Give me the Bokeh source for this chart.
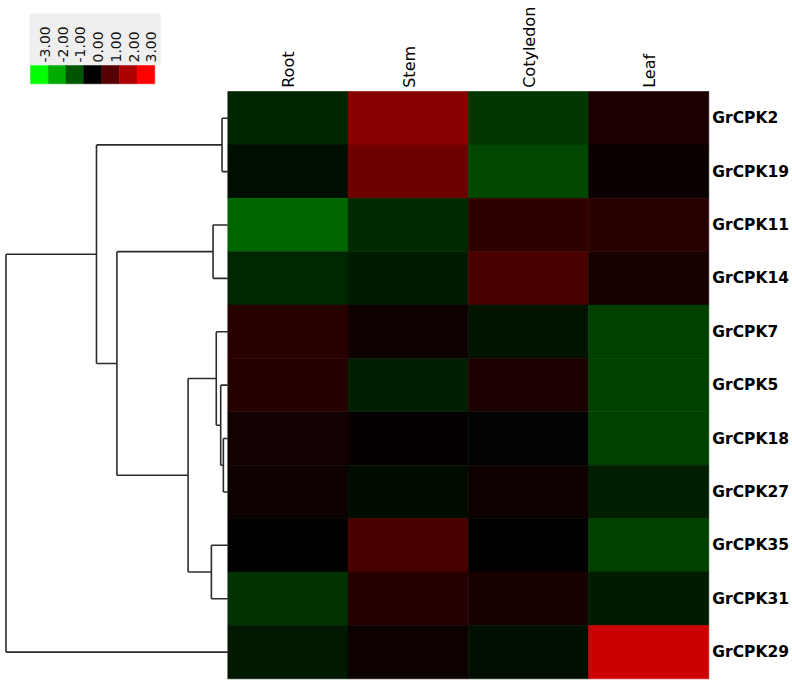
from math import pi
from bokeh.plotting import figure
from bokeh.models import Range1d
from bokeh.core.properties import value
from bokeh.embed import file_html
from bokeh.resources import INLINE

# ---------------- data ----------------
genes = ["GrCPK2", "GrCPK19", "GrCPK11", "GrCPK14", "GrCPK7", "GrCPK5",
         "GrCPK18", "GrCPK27", "GrCPK35", "GrCPK31", "GrCPK29"]
tissues = ["Root", "Stem", "Cotyledon", "Leaf"]
root_vals = [-0.45, -0.16, -1.18, -0.47, 0.48, 0.45, 0.24, 0.14, 0.04, -0.60, -0.30]
stem_vals = [1.60, 1.30, -0.48, -0.33, 0.18, -0.37, 0.06, -0.14, 0.88, 0.45, 0.14]
cot_vals = [-0.65, -0.83, 0.55, 0.88, -0.24, 0.32, -0.03, 0.18, 0.02, 0.30, -0.18]
leaf_vals = [0.33, 0.12, 0.48, 0.30, -0.76, -0.76, -0.76, -0.35, -0.76, -0.33, 2.40]

legend_ticks = [-3.0, -2.0, -1.0, 0.0, 1.0, 2.0, 3.0]
legend_labels = ["-3.00", "-2.00", "-1.00", "0.00", "1.00", "2.00", "3.00"]

# hierarchical clustering (row dendrogram): merge a + b at height h
merge_id = ["n1", "n2", "n3", "n4", "n5", "n6", "n7", "n8", "n9", "n10"]
merge_a = ["GrCPK2", "GrCPK11", "GrCPK18", "GrCPK5", "GrCPK7", "GrCPK35", "n5", "n2", "n1", "n9"]
merge_b = ["GrCPK19", "GrCPK14", "GrCPK27", "n3", "n4", "GrCPK31", "n6", "n7", "n8", "GrCPK29"]
merge_h = [0.026, 0.0665, 0.020, 0.032, 0.052, 0.074, 0.179, 0.50, 0.592, 1.0]

VMAX = 3.0


def to_color(v):
    t = max(-1.0, min(1.0, v / VMAX))
    if t >= 0:
        return "#%02x0000" % int(round(t * 255))
    return "#00%02x00" % int(round(-t * 255))


# ---------------- layout (screen pixels) ----------------
W, H = 792, 684
M = 0
HM_LEFT, HM_RIGHT = 227.3, 708.3
HM_TOP, HM_BOTTOM = 91.0, 678.3
ROOT_X = 5.5
ncol, nrow = len(tissues), len(genes)
cw = (HM_RIGHT - HM_LEFT) / ncol
rh = (HM_BOTTOM - HM_TOP) / nrow
kd = (HM_LEFT - ROOT_X) / max(merge_h)

p = figure(width=W, height=H,
           x_range=Range1d((M - HM_LEFT) / cw, (M + W - HM_LEFT) / cw),
           y_range=Range1d((HM_BOTTOM - (M + H)) / rh, (HM_BOTTOM - M) / rh),
           toolbar_location=None, output_backend="svg", min_border=0,
           x_axis_location=None, y_axis_location=None,
           outline_line_color=None, background_fill_color="white",
           border_fill_color="white")
p.grid.visible = False
p.extra_x_ranges = {"dist": Range1d((HM_LEFT - M) / kd, (HM_LEFT - (M + W)) / kd),
                    "px": Range1d(M, M + W)}
p.extra_y_ranges = {"pxy": Range1d(M + H, M)}

# ---------------- heatmap ----------------
cols = [root_vals, stem_vals, cot_vals, leaf_vals]
L, R, T, B, C = [], [], [], [], []
for j, vals in enumerate(cols):
    for i, v in enumerate(vals):
        L.append(j); R.append(j + 1)
        T.append(nrow - i); B.append(nrow - i - 1)
        C.append(to_color(v))
p.quad(left=L, right=R, top=T, bottom=B, fill_color=C, line_color=C, line_width=0.6)

# column labels
p.text(x=[j + 0.5 + 1.0 / cw for j in range(ncol)], y=[nrow + 3.7 / rh] * ncol,
       text=tissues, angle=pi / 2, text_align="left", text_baseline="middle",
       text_font=value("DejaVu Sans"), text_font_size="16px", text_color="#000000")

# row labels
p.text(x=[ncol + 3.5 / cw] * nrow, y=[nrow - i - 0.5 for i in range(nrow)],
       text=genes, text_align="left", text_baseline="middle",
       text_font=value("DejaVu Sans"), text_font_style="bold",
       text_font_size="15.5px", text_color="#000000")

# ---------------- dendrogram ----------------
ypos = {g: nrow - i - 0.5 for i, g in enumerate(genes)}
hpos = {g: 0.0 for g in genes}
x0s, y0s, x1s, y1s = [], [], [], []
for nid, a, b, h in zip(merge_id, merge_a, merge_b, merge_h):
    ya, yb = ypos[a], ypos[b]
    x0s += [hpos[a], hpos[b]]; x1s += [h, h]
    y0s += [ya, yb]; y1s += [ya, yb]
    x0s.append(h); x1s.append(h); y0s.append(ya); y1s.append(yb)
    ypos[nid] = (ya + yb) / 2.0
    hpos[nid] = h
p.segment(x0=x0s, y0=y0s, x1=x1s, y1=y1s, x_range_name="dist",
          line_color="#2b2b2b", line_width=1.6)

# ---------------- colour legend ----------------
LG_X0, LG_SW = 30.0, 17.75
LG_TOP, LG_BOT = 65.0, 83.3
nl = len(legend_ticks)
p.quad(left=[LG_X0 - 1], right=[LG_X0 + nl * LG_SW + 6], top=[13], bottom=[LG_TOP],
       x_range_name="px", y_range_name="pxy", fill_color="#efefef", line_color=None)
p.quad(left=[LG_X0 + k * LG_SW for k in range(nl)],
       right=[LG_X0 + (k + 1) * LG_SW for k in range(nl)],
       top=[LG_TOP] * nl, bottom=[LG_BOT] * nl,
       fill_color=[to_color(v) for v in legend_ticks],
       line_color=[to_color(v) for v in legend_ticks], line_width=0.5,
       x_range_name="px", y_range_name="pxy")
p.text(x=[LG_X0 + (k + 1) * LG_SW - 3.5 for k in range(nl)], y=[62.0] * nl,
       text=legend_labels, angle=pi / 2, text_align="left", text_baseline="middle",
       text_font=value("DejaVu Sans"), text_font_size="14px", text_color="#111111",
       x_range_name="px", y_range_name="pxy")

open("out.html", "w").write(file_html(p, INLINE))
